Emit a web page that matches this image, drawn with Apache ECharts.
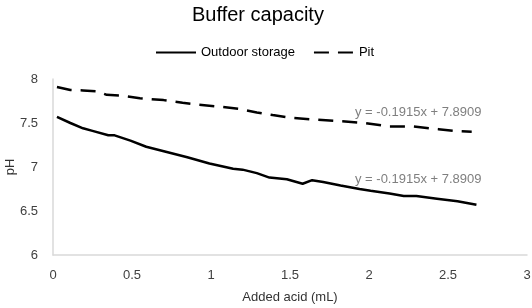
<!DOCTYPE html>
<html>
<head>
<meta charset="utf-8">
<script src="https://cdn.jsdelivr.net/npm/echarts@6/dist/echarts.min.js"></script>
<style>
  html, body { margin: 0; padding: 0; background: #fff; }
  #chart { width: 532px; height: 308px; }
</style>
</head>
<body>
<div id="chart"></div>
<script>
// values
const outdoorX = [0.025, 0.11, 0.19, 0.25, 0.35, 0.39, 0.49, 0.59, 0.72, 0.85, 0.99, 1.04, 1.14, 1.20, 1.29, 1.37, 1.48, 1.58, 1.64, 1.71, 1.82, 1.94, 2.01, 2.13, 2.22, 2.30, 2.43, 2.56, 2.68];
const outdoorY = [7.57, 7.50, 7.44, 7.41, 7.36, 7.36, 7.30, 7.23, 7.17, 7.11, 7.04, 7.02, 6.98, 6.97, 6.93, 6.88, 6.86, 6.81, 6.85, 6.83, 6.79, 6.75, 6.73, 6.70, 6.67, 6.67, 6.64, 6.61, 6.57];

const pitX = [0.025, 0.11, 0.19, 0.28, 0.34, 0.44, 0.55, 0.70, 0.82, 0.91, 1.03, 1.18, 1.29, 1.39, 1.50, 1.65, 1.82, 1.97, 2.13, 2.28, 2.44, 2.54, 2.65];
const pitY = [7.91, 7.875, 7.87, 7.86, 7.82, 7.81, 7.78, 7.76, 7.73, 7.71, 7.69, 7.66, 7.62, 7.59, 7.56, 7.54, 7.52, 7.50, 7.46, 7.46, 7.43, 7.41, 7.40];

const xTicks = [0, 0.5, 1, 1.5, 2, 2.5, 3];
const yTicks = [6, 6.5, 7, 7.5, 8];
const trendText = 'y = -0.1915x + 7.8909';

function pairs(xs, ys) {
  return xs.map((x, i) => [x, ys[i]]);
}

const chart = echarts.init(document.getElementById('chart'));
const font = 'Liberation Sans';
const grey = '#d9d9d9';

chart.setOption({
  animation: false,
  textStyle: { fontFamily: font },
  title: {
    text: 'Buffer capacity',
    left: 187,
    top: 0,
    textStyle: { fontSize: 20, fontWeight: 'normal', color: '#000', fontFamily: font }
  },
  legend: {
    top: 41,
    left: 150,
    itemWidth: 40,
    itemHeight: 12,
    itemGap: 18,
    itemStyle: { opacity: 0 },
    textStyle: { fontSize: 13, color: '#000', fontFamily: font },
    data: ['Outdoor storage', 'Pit']
  },
  grid: { left: 53, right: 5, top: 79, bottom: 53, containLabel: false, outerBoundsMode: 'none' },
  xAxis: {
    type: 'value',
    min: 0, max: 3, interval: 0.5,
    name: 'Added acid (mL)',
    nameLocation: 'middle',
    nameGap: 36,
    nameMoveOverlap: false,
    nameTextStyle: { fontSize: 13, color: '#333' },
    axisLine: { show: true, lineStyle: { color: grey, width: 1.5 } },
    axisTick: { show: false },
    splitLine: { show: false },
    axisLabel: { fontSize: 13, color: '#404040', margin: 14,
      formatter: v => xTicks.indexOf(v) >= 0 ? String(v) : '' }
  },
  yAxis: {
    type: 'value',
    min: 6, max: 8, interval: 0.5,
    name: 'pH',
    nameLocation: 'middle',
    nameGap: 36,
    nameMoveOverlap: false,
    nameRotate: 90,
    nameTextStyle: { fontSize: 13, color: '#333' },
    axisLine: { show: true, lineStyle: { color: grey, width: 1.5 } },
    axisTick: { show: false },
    splitLine: { show: false },
    axisLabel: { fontSize: 13, color: '#404040', margin: 15,
      formatter: v => yTicks.indexOf(v) >= 0 ? String(v) : '' }
  },
  series: [
    {
      name: 'Outdoor storage',
      type: 'line',
      data: pairs(outdoorX, outdoorY),
      showSymbol: false,
      symbol: 'none',
      smooth: false,
      lineStyle: { color: '#000', width: 2.5 },
      itemStyle: { color: '#000' }
    },
    {
      name: 'Pit',
      type: 'line',
      data: pairs(pitX, pitY),
      showSymbol: false,
      symbol: 'none',
      lineStyle: { color: '#000', width: 2.5, type: [15, 9] },
      itemStyle: { color: '#000' }
    }
  ],
  graphic: [
    { type: 'text', left: 355, top: 106,
      style: { text: trendText, fontSize: 13, fill: '#7f7f7f', fontFamily: font } },
    { type: 'text', left: 355, top: 173,
      style: { text: trendText, fontSize: 13, fill: '#7f7f7f', fontFamily: font } }
  ]
});
</script>
</body>
</html>
